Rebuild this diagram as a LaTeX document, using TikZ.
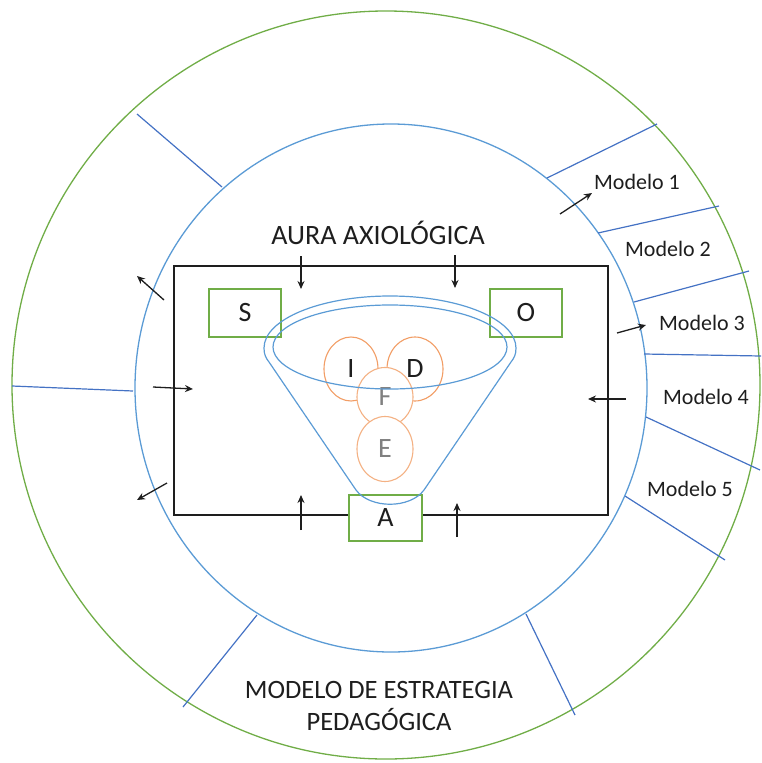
\documentclass[tikz,border=0pt]{standalone}
\usepackage{fontspec}
\setmainfont{Carlito}
\usetikzlibrary{arrows.meta,shapes.geometric}
\definecolor{ringgreen}{HTML}{70AD47}
\definecolor{aurablue}{HTML}{5B9BD5}
\definecolor{spokeblue}{HTML}{4472C4}
\definecolor{peach}{HTML}{ED7D31}
\definecolor{peachlight}{HTML}{F4B183}
\definecolor{ink}{HTML}{1E1E1E}

\begin{document}
\begin{tikzpicture}[
    x=1pt, y=-1pt,
    ring/.style={line width=1.3pt},
    spoke/.style={draw=spokeblue, line width=1.2pt},
    arr/.style={-{Stealth[length=8pt, width=7pt]}, line width=1.3pt, ink},
    letterbox/.style={rectangle, draw=ringgreen, fill=white, line width=1.2pt, minimum width=72pt, minimum height=48pt, inner sep=0pt, font=\fontsize{28}{30}\selectfont, text=ink},
    bubble/.style={ellipse, draw=peach!75, fill=white, line width=1.1pt, minimum width=55pt, minimum height=64pt, inner sep=0pt, font=\fontsize{28}{30}\selectfont, text=ink},
    softbubble/.style={bubble, draw=peachlight, text=gray},
    model/.style={font=\fontsize{22}{26}\selectfont, text=ink},
    title/.style={font=\fontsize{27}{32}\selectfont, text=ink, align=center}
]
\useasboundingbox (0,0) rectangle (761,763);

% Rings
\draw[ringgreen, ring] (386,385) circle [radius=374];
\draw[aurablue, ring] (391,388) ellipse [x radius=256, y radius=264];

% Spokes of the outer ring
\draw[spoke] (137,114) -- (222,187);
\draw[spoke] (12,386) -- (133,391);
\draw[spoke] (547,178) -- (657,124);
\draw[spoke] (598,233) -- (719,206);
\draw[spoke] (634,302) -- (749,271);
\draw[spoke] (644,354) -- (761,356);
\draw[spoke] (646,417) -- (760,470);
\draw[spoke] (625,496) -- (725,560);
\draw[spoke] (257,615) -- (183,707);
\draw[spoke] (526,614) -- (575,715);

% Frame and boxes
\draw[ink, line width=1.3pt] (174,266) rectangle (608,515);
\node[letterbox] (s) at (245,313) {S};
\node[letterbox] (o) at (526,313) {O};
\node[letterbox, minimum width=73pt, minimum height=46pt] (a) at (385.5,518) {A};

% Bubbles
\node[bubble, minimum width=54pt] (i) at (351,369) {I};
\node[bubble, minimum width=56pt] (d) at (415,369) {D};
\node[softbubble, minimum width=56pt, minimum height=59pt] (f) at (385,397) {F};
\node[softbubble, minimum width=56pt, minimum height=65pt] (e) at (385,449) {E};

% Funnel
\draw[aurablue, line width=1.2pt] (264,348) arc[start angle=180, end angle=360, x radius=126, y radius=52]
    .. controls (516,355) and (514,358) .. (511,362) -- (424,490)
    .. controls (410,509) and (370,509) .. (356,490) -- (269,362)
    .. controls (266,358) and (264,355) .. cycle;
\draw[aurablue, line width=1.2pt] (390,347) ellipse [x radius=117, y radius=42];

% Arrows
\draw[arr] (301,256) -- (301,289);
\draw[arr] (455,255) -- (455,288);
\draw[arr] (153,387) -- (193,389);
\draw[arr] (164,300) -- (137,276);
\draw[arr] (167,483) -- (137,500);
\draw[arr] (301,530) -- (301,495);
\draw[arr] (457,537) -- (457,503);
\draw[arr] (626,399) -- (588,399);
\draw[arr] (560,214) -- (592,193);
\draw[arr] (617,333) -- (646,325);

% Labels
\node[title, font=\fontsize{28}{32}\selectfont] (aura) at (378,233) {AURA AXIOLÓGICA};
\node[title, font=\fontsize{26.5}{32}\selectfont] (mep) at (379,706) {MODELO DE ESTRATEGIA\\PEDAGÓGICA};
\node[model] (m1) at (637,182) {Modelo 1};
\node[model] (m2) at (668,249) {Modelo 2};
\node[model] (m3) at (702,323) {Modelo 3};
\node[model] (m4) at (706,397) {Modelo 4};
\node[model] (m5) at (690,489) {Modelo 5};

\end{tikzpicture}
\end{document}
